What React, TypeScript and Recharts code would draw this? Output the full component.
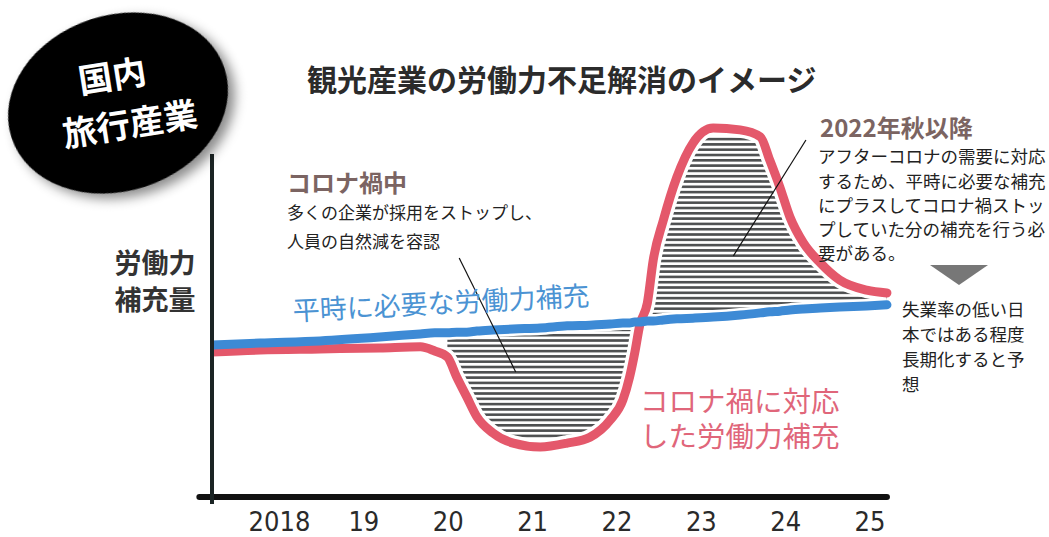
import { Area, ComposedChart, Line, ReferenceLine, XAxis, YAxis } from "recharts";

// x axis: years (fractional positions along the time line)
const years = [2018, 2019, 2020, 2021, 2022, 2023, 2024, 2025];
const yearLabels = ["2018", "19", "20", "21", "22", "23", "24", "25"];

const xs = [
  2017.2, 2017.77, 2018.48, 2019.19, 2019.67, 2019.84, 2019.99, 2020.1, 2020.22, 2020.34,
  2020.53, 2020.77, 2021.09, 2021.41, 2021.68, 2021.92, 2022.07, 2022.15, 2022.21, 2022.27,
  2022.36, 2022.43, 2022.55, 2022.71, 2022.9, 2023.14, 2023.46, 2023.7, 2023.81, 2023.93,
  2024.05, 2024.21, 2024.41, 2024.64, 2024.96, 2025.2,
];

// 平時に必要な労働力補充 (blue)
const normalSupply = [
  43.4, 44.0, 44.6, 45.7, 46.6, 46.9, 46.9, 47.1, 47.1, 47.4,
  47.7, 48.0, 48.3, 48.9, 49.1, 49.4, 49.7, 49.7, 50.0, 50.0,
  50.3, 50.3, 50.6, 50.9, 51.1, 51.4, 52.0, 52.6, 52.9, 53.1,
  53.4, 53.7, 54.0, 54.3, 54.6, 54.9,
];

// コロナ禍に対応した労働力補充 (red)
const covidSupply = [
  41.4, 42.0, 42.3, 42.6, 42.9, 41.7, 40.0, 34.3, 28.6, 22.9,
  18.3, 15.4, 14.3, 15.4, 17.1, 22.0, 27.7, 34.3, 41.1, 49.1,
  55.4, 67.7, 79.1, 91.4, 101.1, 105.4, 104.9, 102.9, 96.3, 88.6,
  80.0, 72.6, 66.9, 62.0, 59.1, 58.3,
];

const hatchFrom = 2019.95;

// leader lines for the two notes
const noteCovid = [{ x: 2020.13, y: 68.3 }, { x: 2020.8, y: 35.7 }];
const noteAfter = [{ x: 2024.24, y: 102 }, { x: 2023.38, y: 68.9 }];

const data = xs.map((x, i) => ({
  x,
  normal: normalSupply[i],
  covid: covidSupply[i],
  gap:
    x >= hatchFrom
      ? [Math.min(normalSupply[i], covidSupply[i]), Math.max(normalSupply[i], covidSupply[i])]
      : null,
}));

const jp = "'Noto Sans CJK JP', 'Noto Sans', sans-serif";
const BLUE = "#3d8ad5";
const RED = "#e4586b";

function YearTick({ x, y, payload }: any) {
  const label = yearLabels[years.indexOf(payload.value)];
  return (
    <text
      x={x}
      y={y + 32}
      textAnchor="middle"
      fontSize={27}
      fill="#2a2a2a"
      fontFamily="'DejaVu Sans Condensed', 'DejaVu Sans', sans-serif"
      style={{ fontStretch: "condensed" }}
    >
      {label}
    </text>
  );
}

export default function App() {
  return (
    <div style={{ position: "absolute", left: 0, top: 0, width: 1049, height: 537, background: "#fff" }}>
      <ComposedChart
        width={1049}
        height={537}
        data={data}
        margin={{ top: 112, right: 157, bottom: 0, left: 212 }}
      >
        <defs>
          <pattern id="hatch" patternUnits="userSpaceOnUse" width={10} height={5.3}>
            <rect x={0} y={0} width={10} height={2.6} fill="#4d4f50" />
          </pattern>
        </defs>
        <XAxis
          type="number"
          dataKey="x"
          domain={[2017.2, 2025.26]}
          allowDataOverflow
          ticks={years}
          tick={<YearTick />}
          tickLine={false}
          tickSize={0}
          axisLine={false}
          height={40}
        />
        <YAxis hide domain={[0, 110]} allowDataOverflow />
        <Area
          type="monotone"
          dataKey="gap"
          fill="url(#hatch)"
          fillOpacity={1}
          stroke="none"
          isAnimationActive={false}
        />
        <Line type="monotone" dataKey="covid" stroke="#fff" strokeWidth={16} dot={false} activeDot={false} isAnimationActive={false} />
        <Line type="monotone" dataKey="normal" stroke="#fff" strokeWidth={14} dot={false} activeDot={false} isAnimationActive={false} />
        <Line type="monotone" dataKey="covid" stroke={RED} strokeWidth={9} strokeLinecap="round" dot={false} activeDot={false} isAnimationActive={false} />
        <Line type="monotone" dataKey="normal" stroke={BLUE} strokeWidth={9} strokeLinecap="round" dot={false} activeDot={false} isAnimationActive={false} />
        <ReferenceLine segment={[{ x: 2017.05, y: 0 }, { x: 2025.2, y: 0 }]} stroke="#111" strokeWidth={6} strokeLinecap="round" ifOverflow="visible" />
        <ReferenceLine segment={[{ x: 2017.2, y: -2 }, { x: 2017.2, y: 98 }]} stroke="#1b2424" strokeWidth={4} ifOverflow="visible" />
        <ReferenceLine segment={noteCovid} stroke="#111" strokeWidth={1.2} ifOverflow="visible" />
        <ReferenceLine segment={noteAfter} stroke="#111" strokeWidth={1.2} ifOverflow="visible" />
      </ComposedChart>

      <svg
        width={1049}
        height={537}
        style={{ position: "absolute", left: 0, top: 0, pointerEvents: "none" }}
        fontFamily={jp}
      >
        <defs>
          <filter id="shadow" x="-20%" y="-20%" width="150%" height="150%">
            <feDropShadow dx={5} dy={7} stdDeviation={6} floodColor="#000" floodOpacity={0.45} />
          </filter>
        </defs>
        <ellipse cx={118} cy={103} rx={112} ry={88} transform="rotate(-18 118 103)" fill="#000" filter="url(#shadow)" />
        <g transform="rotate(-9 118 100)" fill="#fff" fontWeight={700} fontSize={34} textAnchor="middle">
          <text x={116} y={88}>国内</text>
          <text x={126} y={138}>旅行産業</text>
        </g>

        <text x={307} y={91} fontSize={30} fontWeight={700} fill="#2b2b2b">観光産業の労働力不足解消のイメージ</text>

        <g fontSize={27} fontWeight={700} fill="#333" textAnchor="middle">
          <text x={155} y={273}>労働力</text>
          <text x={155} y={310}>補充量</text>
        </g>

        <text x={287} y={192} fontSize={24} fontWeight={700} fill="#7b6462">コロナ禍中</text>
        <g fontSize={17} fill="#222">
          <text x={287} y={219}>多くの企業が採用をストップし、</text>
          <text x={287} y={248}>人員の自然減を容認</text>
        </g>

        <text x={820} y={137} fontSize={24} fontWeight={700} fill="#7b6462">2022年秋以降</text>
        <g fontSize={17.5} fill="#222">
          <text x={818} y={163}>アフターコロナの需要に対応</text>
          <text x={818} y={188}>するため、平時に必要な補充</text>
          <text x={818} y={212}>にプラスしてコロナ禍ストッ</text>
          <text x={818} y={236}>プしていた分の補充を行う必</text>
          <text x={818} y={260}>要がある。</text>
        </g>

        <polygon points="930,265 988,265 959,285" fill="#777" />
        <g fontSize={17.5} fill="#222">
          <text x={902} y={316}>失業率の低い日</text>
          <text x={902} y={341}>本ではある程度</text>
          <text x={902} y={366}>長期化すると予</text>
          <text x={902} y={391}>想</text>
        </g>

        <text x={441} y={313} fontSize={27} fill="#4b93d3" textAnchor="middle" transform="rotate(-3 441 303)">
          平時に必要な労働力補充
        </text>

        <text fontSize={28.5} fill="#e0667a">
          <tspan x={640} y={412}>コロナ禍に対応</tspan>
          <tspan x={640} y={447}>した労働力補充</tspan>
        </text>
      </svg>
    </div>
  );
}
